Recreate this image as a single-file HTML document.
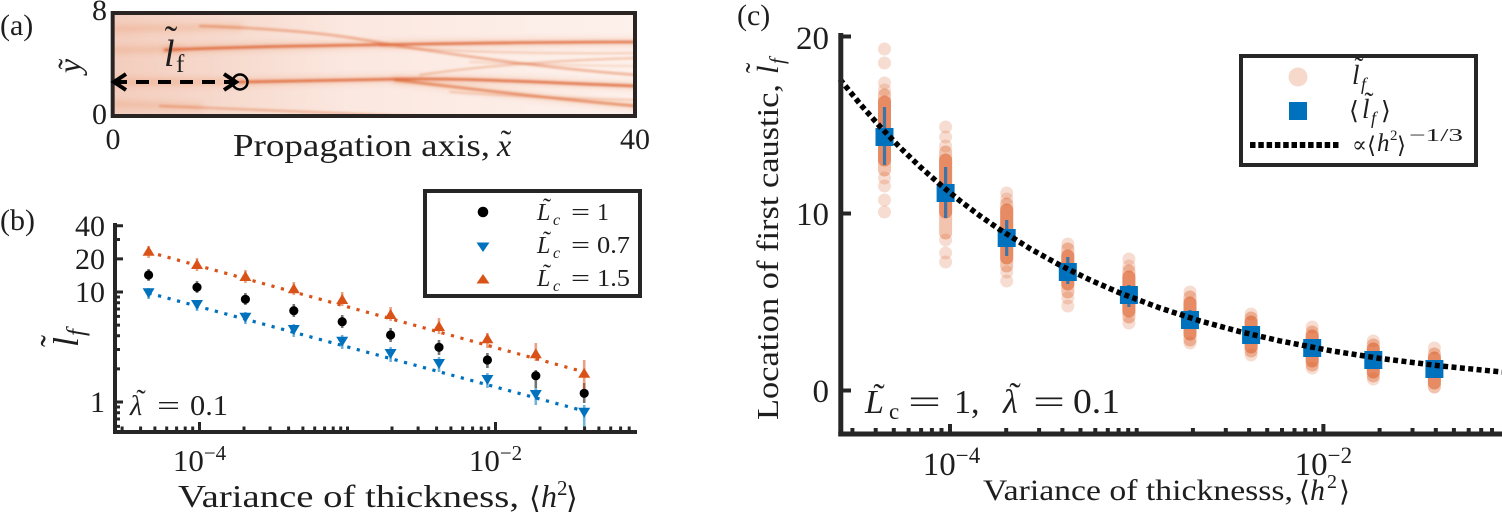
<!DOCTYPE html>
<html><head><meta charset="utf-8"><style>
html,body{margin:0;padding:0;background:#fff;}
svg{display:block;}
text{font-family:"Liberation Serif","DejaVu Serif",serif;fill:#1e1e1e;}
.it{font-style:italic;}
.sym{font-family:"DejaVu Serif","Liberation Serif",serif;}
</style></head><body>
<svg width="1502" height="521" viewBox="0 0 1502 521" xmlns="http://www.w3.org/2000/svg">
<defs>
<clipPath id="ca"><rect x="114.7" y="15" width="520.3" height="101"/></clipPath>
<linearGradient id="ga" x1="0" x2="1" y1="0" y2="0">
<stop offset="0" stop-color="#f3cdbd"/>
<stop offset="0.2" stop-color="#f6d9cc"/>
<stop offset="0.45" stop-color="#fbe8e0"/>
<stop offset="1" stop-color="#fdf1ec"/>
</linearGradient>
<filter id="bl" x="-10%" y="-50%" width="120%" height="200%"><feGaussianBlur stdDeviation="1.1"/></filter>
<filter id="bl2" x="-10%" y="-50%" width="120%" height="200%"><feGaussianBlur stdDeviation="3"/></filter>
</defs>
<rect width="1502" height="521" fill="#fff"/>

<!-- ================= (a) ================= -->
<text x="0" y="35" font-size="30">(a)</text>
<g clip-path="url(#ca)">
<rect x="113" y="13" width="524" height="105" fill="url(#ga)"/>
<g fill="none" stroke="#D95319" stroke-linecap="round" filter="url(#bl2)">
<path d="M115,29 C160,28 200,27 240,27" stroke-width="7" stroke-opacity="0.14"/>
<path d="M115,50 C140,50 160,49 180,49" stroke-width="7" stroke-opacity="0.14"/>
<path d="M115,82 L240,82" stroke-width="8" stroke-opacity="0.16"/>
<path d="M115,104 C150,105 170,106 200,107" stroke-width="7" stroke-opacity="0.14"/>
<path d="M165,50 C230,47 300,46 360,45 C430,44 520,42 637,42" stroke-width="7" stroke-opacity="0.18"/>
<path d="M240,82 C300,81 350,80 400,79 C470,78 550,83 637,86" stroke-width="7" stroke-opacity="0.18"/>
<path d="M395,80 C450,86 540,98 637,106" stroke-width="7" stroke-opacity="0.15"/>
</g>
<g fill="none" stroke="#D95319" stroke-linecap="round" filter="url(#bl)">
<path d="M165,50 C230,47 300,46 360,45 C430,44 520,42 637,42" stroke-width="2.6" stroke-opacity="0.75"/>
<path d="M200,26 C260,28 320,32 365,40 C410,48 520,66 637,75" stroke-width="2.2" stroke-opacity="0.45"/>
<path d="M240,82 C300,81 350,80 400,79 C470,78 550,83 637,86" stroke-width="2.6" stroke-opacity="0.75"/>
<path d="M395,80 C450,86 540,98 637,106" stroke-width="2.4" stroke-opacity="0.6"/>
<path d="M420,75 C480,66 560,60 637,58" stroke-width="1.8" stroke-opacity="0.35"/>
<path d="M160,106 C260,110 340,113 430,117" stroke-width="2" stroke-opacity="0.4"/>
<path d="M450,92 C520,97 580,99 637,100" stroke-width="1.5" stroke-opacity="0.3"/>
<path d="M380,46 C450,52 540,54 637,53" stroke-width="1.5" stroke-opacity="0.3"/>
<path d="M470,62 C530,64 590,66 637,66" stroke-width="1.3" stroke-opacity="0.25"/>
</g>
</g>
<rect x="112.7" y="13" width="522.3" height="103" fill="none" stroke="#2a2522" stroke-width="4"/>
<!-- arrow -->
<line x1="114" y1="82" x2="234" y2="82" stroke="#000" stroke-width="4" stroke-dasharray="13 9"/>
<polyline points="126,74 114,82 126,90" fill="none" stroke="#000" stroke-width="4" stroke-linejoin="miter"/>
<polyline points="224,74 236,82 224,90" fill="none" stroke="#000" stroke-width="4"/>
<circle cx="240" cy="82" r="7.5" fill="none" stroke="#000" stroke-width="2.5"/>
<text x="164" y="66" font-size="38" class="it" fill="#000">l</text>
<text x="171" y="52" font-size="38" text-anchor="middle" fill="#000">˜</text>
<text x="176" y="72" font-size="25" fill="#000">f</text>
<!-- ticks labels -->
<text x="107" y="20" font-size="30" text-anchor="end">8</text>
<text x="107" y="124" font-size="30" text-anchor="end">0</text>
<text x="113" y="149" font-size="30" text-anchor="middle">0</text>
<text x="635" y="149" font-size="30" text-anchor="middle">40</text>
<text x="233" y="156" font-size="32" textLength="257" lengthAdjust="spacingAndGlyphs">Propagation axis,</text>
<text x="497" y="156" font-size="32" class="it">x</text>
<text x="506" y="152" font-size="32" text-anchor="middle">˜</text>
<g transform="translate(80,66) rotate(-90)">
<text x="0" y="0" font-size="32" class="it" text-anchor="middle">y</text>
<text x="2" y="0" font-size="32" text-anchor="middle">˜</text>
</g>

<!-- ================= (b) ================= -->
<text x="0" y="230" font-size="30">(b)</text>
<!-- dotted fits -->
<line x1="148.6" y1="252" x2="584.2" y2="372" stroke="#D95319" stroke-width="3.2" stroke-dasharray="3.2 6.6"/>
<line x1="148.6" y1="293" x2="584.2" y2="411" stroke="#0072BD" stroke-width="3.2" stroke-dasharray="3.2 6.6"/>
<!-- error bars -->
<g stroke-width="2.6" stroke-opacity="0.55">
<g stroke="#000">
<line x1="148.6" y1="269" x2="148.6" y2="281"/><line x1="197" y1="281" x2="197" y2="293"/><line x1="245.4" y1="293" x2="245.4" y2="305"/><line x1="293.8" y1="304" x2="293.8" y2="317"/><line x1="342.2" y1="315" x2="342.2" y2="328"/><line x1="390.6" y1="328" x2="390.6" y2="342"/><line x1="439" y1="340" x2="439" y2="355"/><line x1="487.4" y1="353" x2="487.4" y2="368"/><line x1="535.8" y1="370" x2="535.8" y2="388"/><line x1="584.2" y1="383" x2="584.2" y2="403"/>
</g>
<g stroke="#D95319">
<line x1="148.6" y1="246" x2="148.6" y2="258"/><line x1="197" y1="258" x2="197" y2="271"/><line x1="245.4" y1="270" x2="245.4" y2="283"/><line x1="293.8" y1="282" x2="293.8" y2="295"/><line x1="342.2" y1="292" x2="342.2" y2="306"/><line x1="390.6" y1="307" x2="390.6" y2="321"/><line x1="439" y1="318" x2="439" y2="334"/><line x1="487.4" y1="333" x2="487.4" y2="348"/><line x1="535.8" y1="343" x2="535.8" y2="361"/><line x1="584.2" y1="360" x2="584.2" y2="390"/>
</g>
<g stroke="#0072BD">
<line x1="148.6" y1="288" x2="148.6" y2="299"/><line x1="197" y1="300" x2="197" y2="311"/><line x1="245.4" y1="312" x2="245.4" y2="324"/><line x1="293.8" y1="324" x2="293.8" y2="337"/><line x1="342.2" y1="335" x2="342.2" y2="349"/><line x1="390.6" y1="347" x2="390.6" y2="362"/><line x1="439" y1="357" x2="439" y2="372"/><line x1="487.4" y1="373" x2="487.4" y2="388"/><line x1="535.8" y1="388" x2="535.8" y2="405"/><line x1="584.2" y1="405" x2="584.2" y2="432"/>
</g>
</g>
<!-- markers -->
<g fill="#000">
<circle cx="148.6" cy="275" r="4.6"/><circle cx="197" cy="287.3" r="4.6"/><circle cx="245.4" cy="299.3" r="4.6"/><circle cx="293.8" cy="310.7" r="4.6"/><circle cx="342.2" cy="321.7" r="4.6"/><circle cx="390.6" cy="335" r="4.6"/><circle cx="439" cy="347.3" r="4.6"/><circle cx="487.4" cy="360" r="4.6"/><circle cx="535.8" cy="375.7" r="4.6"/><circle cx="584.2" cy="393.3" r="4.6"/>
</g>
<g fill="#0072BD">
<polygon points="142.6,288.3 154.6,288.3 148.6,298.3"/><polygon points="191,300 203,300 197,310"/><polygon points="239.4,312.7 251.4,312.7 245.4,322.7"/><polygon points="287.8,325 299.8,325 293.8,335"/><polygon points="336.2,336.7 348.2,336.7 342.2,346.7"/><polygon points="384.6,349 396.6,349 390.6,359"/><polygon points="433,359 445,359 439,369"/><polygon points="481.4,375 493.4,375 487.4,385"/><polygon points="529.8,390 541.8,390 535.8,400"/><polygon points="578.2,407.7 590.2,407.7 584.2,417.7"/>
</g>
<g fill="#D95319">
<polygon points="142.6,255.7 154.6,255.7 148.6,245.7"/><polygon points="191,269 203,269 197,259"/><polygon points="239.4,281 251.4,281 245.4,271"/><polygon points="287.8,293.3 299.8,293.3 293.8,283.3"/><polygon points="336.2,304 348.2,304 342.2,294"/><polygon points="384.6,319 396.6,319 390.6,309"/><polygon points="433,331 445,331 439,321"/><polygon points="481.4,343.3 493.4,343.3 487.4,333.3"/><polygon points="529.8,358.3 541.8,358.3 535.8,348.3"/><polygon points="578.2,377.7 590.2,377.7 584.2,367.7"/>
</g>
<!-- axes (b) -->
<g stroke="#262626" fill="none">
<line x1="115" y1="223" x2="115" y2="434" stroke-width="4"/>
<line x1="113" y1="432" x2="637" y2="432" stroke-width="4"/>
<path stroke-width="3" d="M122.1,432V426.5M140.6,432V426.5M154.9,432V426.5M166.7,432V426.5M176.6,432V426.5M185.2,432V426.5M192.7,432V426.5M244,432V426.5M270.1,432V426.5M288.6,432V426.5M302.9,432V426.5M314.7,432V426.5M324.6,432V426.5M333.2,432V426.5M340.7,432V426.5M347.5,432V426.5M392,432V426.5M418.1,432V426.5M436.6,432V426.5M450.9,432V426.5M462.7,432V426.5M472.6,432V426.5M481.2,432V426.5M488.7,432V426.5M540,432V426.5M566.1,432V426.5M584.6,432V426.5M598.9,432V426.5M610.7,432V426.5M620.6,432V426.5M629.2,432V426.5"/>
<path stroke-width="3" d="M199.5,432V422M495.5,432V422"/>
<path stroke-width="3" d="M115,426.4H120M115,419H120M115,412.7H120M115,407H120M115,368.9H120M115,349.5H120M115,335.8H120M115,325.1H120M115,316.4H120M115,309H120M115,302.7H120M115,297H120M115,239.5H120"/>
<path stroke-width="3" d="M115,402H123M115,292H123M115,258.9H123M115,225.8H123"/>
</g>
<text x="105" y="412" font-size="30" text-anchor="end">1</text>
<text x="105" y="302" font-size="30" text-anchor="end">10</text>
<text x="105" y="269" font-size="30" text-anchor="end">20</text>
<text x="105" y="236" font-size="30" text-anchor="end">40</text>
<text x="199.5" y="471" font-size="31" text-anchor="middle">10<tspan font-size="21" dy="-11">−4</tspan></text>
<text x="495.5" y="471" font-size="31" text-anchor="middle">10<tspan font-size="21" dy="-11">−2</tspan></text>
<text x="178" y="507" font-size="32" textLength="341" lengthAdjust="spacingAndGlyphs">Variance of thickness,</text>
<text x="529" y="508" font-size="30" class="sym">⟨</text>
<text x="541" y="507" font-size="32" class="it">h</text>
<text x="557" y="495" font-size="21">2</text>
<text x="566" y="508" font-size="30" class="sym">⟩</text>
<g transform="translate(78,347) rotate(-90)">
<text x="0" y="0" font-size="36" class="it">l</text>
<text x="6" y="-13" font-size="36" text-anchor="middle">˜</text>
<text x="11" y="6" font-size="25" class="it">f</text>
</g>
<text x="130" y="415" font-size="28" class="it">λ</text>
<text x="141" y="409" font-size="28" text-anchor="middle">˜</text>
<text x="157" y="415" font-size="28" textLength="23" lengthAdjust="spacingAndGlyphs">=</text>
<text x="190" y="415" font-size="29" textLength="38" lengthAdjust="spacingAndGlyphs">0.1</text>
<!-- legend (b) -->
<rect x="425" y="191" width="215" height="105" fill="#fff" stroke="#262626" stroke-width="4"/>
<circle cx="483" cy="212" r="5.3" fill="#000"/>
<polygon points="476.5,242.5 489.5,242.5 483,252" fill="#0072BD"/>
<polygon points="476.5,283.5 489.5,283.5 483,274" fill="#D95319"/>
<g font-size="24">
<text x="537" y="220" class="it">L</text><text x="547" y="215" text-anchor="middle">˜</text><text x="553" y="225" font-size="16" class="it">c</text><text x="571" y="220" textLength="19" lengthAdjust="spacingAndGlyphs">=</text><text x="597" y="220">1</text>
<text x="537" y="253" class="it">L</text><text x="547" y="248" text-anchor="middle">˜</text><text x="553" y="258" font-size="16" class="it">c</text><text x="571" y="253" textLength="19" lengthAdjust="spacingAndGlyphs">=</text><text x="597" y="253" textLength="33" lengthAdjust="spacingAndGlyphs">0.7</text>
<text x="537" y="286" class="it">L</text><text x="547" y="281" text-anchor="middle">˜</text><text x="553" y="291" font-size="16" class="it">c</text><text x="571" y="286" textLength="19" lengthAdjust="spacingAndGlyphs">=</text><text x="597" y="286" textLength="33" lengthAdjust="spacingAndGlyphs">1.5</text>
</g>

<!-- ================= (c) ================= -->
<text x="737" y="25" font-size="30">(c)</text>
<!-- scatter -->
<g fill="#D95319">
<g fill-opacity="0.2">
<circle cx="884.5" cy="49" r="6.5"/><circle cx="884.5" cy="63" r="6.5"/><circle cx="884.5" cy="83" r="6.5"/><circle cx="884.5" cy="90" r="6.5"/><circle cx="884.5" cy="178" r="6.5"/><circle cx="884.5" cy="186" r="6.5"/><circle cx="884.5" cy="200" r="6.5"/><circle cx="884.5" cy="212" r="6.5"/>
<circle cx="945.6" cy="127" r="6.5"/><circle cx="945.6" cy="137" r="6.5"/><circle cx="945.6" cy="146" r="6.5"/><circle cx="945.6" cy="240" r="6.5"/><circle cx="945.6" cy="253" r="6.5"/><circle cx="945.6" cy="262" r="6.5"/>
<circle cx="1006.7" cy="193" r="6.5"/><circle cx="1006.7" cy="199" r="6.5"/><circle cx="1006.7" cy="272" r="6.5"/><circle cx="1006.7" cy="281" r="6.5"/>
<circle cx="1067.8" cy="244" r="6.5"/><circle cx="1067.8" cy="298" r="6.5"/><circle cx="1067.8" cy="306" r="6.5"/>
<circle cx="1128.9" cy="259" r="6.5"/><circle cx="1128.9" cy="266" r="6.5"/><circle cx="1128.9" cy="323" r="6.5"/>
<circle cx="1190" cy="292" r="6.5"/><circle cx="1190" cy="343" r="6.5"/>
<circle cx="1251.1" cy="314" r="6.5"/><circle cx="1251.1" cy="355" r="6.5"/>
<circle cx="1312.2" cy="327" r="6.5"/><circle cx="1312.2" cy="368" r="6.5"/>
<circle cx="1373.3" cy="341" r="6.5"/><circle cx="1373.3" cy="379" r="6.5"/>
<circle cx="1434.4" cy="348" r="6.5"/>
</g>
<g fill-opacity="0.35">
<rect x="878" y="88.5" width="13" height="88" rx="6.5"/>
<rect x="939.1" y="145.5" width="13" height="94" rx="6.5"/>
<rect x="1000.2" y="197.5" width="13" height="75" rx="6.5"/>
<rect x="1061.3" y="242.5" width="13" height="56" rx="6.5"/>
<rect x="1122.4" y="264.5" width="13" height="59" rx="6.5"/>
<rect x="1183.5" y="290.5" width="13" height="56" rx="6.5"/>
<rect x="1244.6" y="311.5" width="13" height="46" rx="6.5"/>
<rect x="1305.7" y="325.5" width="13" height="46" rx="6.5"/>
<rect x="1366.8" y="338.5" width="13" height="44" rx="6.5"/>
<rect x="1427.9" y="347.5" width="13" height="46" rx="6.5"/>
</g>
<g fill-opacity="0.5">
<rect x="878" y="95.5" width="13" height="71" rx="6.5"/>
<rect x="939.1" y="153.5" width="13" height="65" rx="6.5"/>
<rect x="1000.2" y="203.5" width="13" height="61" rx="6.5"/>
<rect x="1061.3" y="249.5" width="13" height="41" rx="6.5"/>
<rect x="1122.4" y="270.5" width="13" height="47" rx="6.5"/>
<rect x="1183.5" y="296.5" width="13" height="44" rx="6.5"/>
<rect x="1244.6" y="315.5" width="13" height="38" rx="6.5"/>
<rect x="1305.7" y="329.5" width="13" height="38" rx="6.5"/>
<rect x="1366.8" y="342.5" width="13" height="36" rx="6.5"/>
<rect x="1427.9" y="351.5" width="13" height="38" rx="6.5"/>
</g>
</g>
<!-- error bars (c) -->
<g stroke="#3f74a6" stroke-width="3.2">
<line x1="884.5" y1="107" x2="884.5" y2="165"/><line x1="945.6" y1="167" x2="945.6" y2="218"/><line x1="1006.7" y1="220" x2="1006.7" y2="256"/><line x1="1067.8" y1="257" x2="1067.8" y2="284"/><line x1="1128.9" y1="285" x2="1128.9" y2="307"/><line x1="1190" y1="310" x2="1190" y2="328"/><line x1="1251.1" y1="327" x2="1251.1" y2="343"/><line x1="1312.2" y1="339" x2="1312.2" y2="356"/><line x1="1373.3" y1="352" x2="1373.3" y2="368"/><line x1="1434.4" y1="362" x2="1434.4" y2="376"/>
</g>
<g fill="#0072BD">
<rect x="875.5" y="128" width="18" height="18"/><rect x="936.6" y="184" width="18" height="18"/><rect x="997.7" y="229" width="18" height="18"/><rect x="1058.8" y="263" width="18" height="18"/><rect x="1119.9" y="286" width="18" height="18"/><rect x="1181" y="311" width="18" height="18"/><rect x="1242.1" y="326" width="18" height="18"/><rect x="1303.2" y="339" width="18" height="18"/><rect x="1364.3" y="351" width="18" height="18"/><rect x="1425.4" y="360" width="18" height="18"/>
</g>
<!-- fit curve -->
<polyline fill="none" stroke="#000" stroke-width="5.5" stroke-dasharray="5 3.4" points="840,79.3 860,103.9 880,126.6 900,147.5 920,166.7 940,184.4 960,200.8 980,215.9 1000,229.7 1030,248.6 1060,265.2 1090,279.9 1120,293 1160,308 1200,320.9 1240,331.7 1280,340.9 1330,350.6 1380,358.4 1440,365.9 1502,372"/>
<!-- axes (c) -->
<g stroke="#262626" fill="none">
<line x1="840.8" y1="33" x2="840.8" y2="436.5" stroke-width="5"/>
<line x1="838.3" y1="434" x2="1502" y2="434" stroke-width="5"/>
<path stroke-width="4" d="M840,36.5H851M840,213.5H851M840,390.5H851"/>
<path stroke-width="4" d="M852.4,434V428M875.7,434V428M893.8,434V428M908.6,434V428M921.1,434V428M931.9,434V428M941.5,434V428M1006.2,434V428M1039.1,434V428M1062.4,434V428M1080.5,434V428M1095.3,434V428M1107.8,434V428M1118.6,434V428M1128.2,434V428M1136.7,434V428M1192.9,434V428M1225.8,434V428M1249.1,434V428M1267.2,434V428M1282,434V428M1294.5,434V428M1305.3,434V428M1314.9,434V428M1379.6,434V428M1412.5,434V428M1435.8,434V428M1453.9,434V428M1468.7,434V428M1481.2,434V428M1492,434V428"/>
<path stroke-width="4" d="M950,434V424M1323.4,434V424"/>
</g>
<text x="829" y="49" font-size="33" text-anchor="end">20</text>
<text x="829" y="225" font-size="33" text-anchor="end">10</text>
<text x="829" y="402" font-size="33" text-anchor="end">0</text>
<text x="951.5" y="475" font-size="33" text-anchor="middle">10<tspan font-size="23" dy="-12">−4</tspan></text>
<text x="1323.4" y="475" font-size="33" text-anchor="middle">10<tspan font-size="23" dy="-12">−2</tspan></text>
<text x="983" y="500" font-size="30" textLength="310" lengthAdjust="spacingAndGlyphs">Variance of thicknesss,</text>
<text x="1299" y="501" font-size="28" class="sym">⟨</text>
<text x="1310" y="500" font-size="30" class="it">h</text>
<text x="1327" y="488" font-size="20">2</text>
<text x="1339" y="501" font-size="28" class="sym">⟩</text>
<g transform="translate(778,420) rotate(-90)">
<text x="0" y="0" font-size="31" textLength="336" lengthAdjust="spacingAndGlyphs">Location of first caustic,</text>
<text x="346" y="0" font-size="31" class="it">l</text>
<text x="352" y="-11" font-size="31" text-anchor="middle">˜</text>
<text x="356" y="6" font-size="21" class="it">f</text>
</g>
<!-- annotation -->
<text x="865" y="413" font-size="34" class="it" fill="#000">L</text>
<text x="879" y="407" font-size="34" text-anchor="middle" fill="#000">˜</text>
<text x="889" y="419" font-size="23" fill="#000">c</text>
<text x="908" y="413" font-size="34" textLength="33" lengthAdjust="spacingAndGlyphs" fill="#000">=</text>
<text x="954" y="413" font-size="34" fill="#000">1,</text>
<text x="1003" y="413" font-size="34" class="it" fill="#000">λ</text>
<text x="1015" y="406" font-size="34" text-anchor="middle" fill="#000">˜</text>
<text x="1033" y="413" font-size="34" textLength="32" lengthAdjust="spacingAndGlyphs" fill="#000">=</text>
<text x="1073" y="413" font-size="35" textLength="47" lengthAdjust="spacingAndGlyphs" fill="#000">0.1</text>
<!-- legend (c) -->
<rect x="1241" y="56" width="235" height="109" fill="#fff" stroke="#262626" stroke-width="4"/>
<circle cx="1298" cy="77" r="9.5" fill="#D95319" fill-opacity="0.22"/>
<rect x="1289" y="102" width="18" height="18" fill="#0072BD"/>
<line x1="1250" y1="145" x2="1341" y2="145" stroke="#000" stroke-width="6" stroke-dasharray="5.5 2.8"/>
<text x="1352" y="84" font-size="27" class="it">l</text>
<text x="1359" y="76" font-size="27" text-anchor="middle">˜</text>
<text x="1361" y="90" font-size="18" class="it">f</text>
<text x="1349" y="119" font-size="25" class="sym">⟨</text>
<text x="1362" y="118" font-size="27" class="it">l</text>
<text x="1369" y="111" font-size="27" text-anchor="middle">˜</text>
<text x="1371" y="124" font-size="18" class="it">f</text>
<text x="1381" y="119" font-size="25" class="sym">⟩</text>
<text x="1352" y="152" font-size="22" class="sym">∝</text>
<text x="1367" y="153" font-size="23" class="sym">⟨</text>
<text x="1377" y="151" font-size="25" class="it">h</text>
<text x="1390" y="140" font-size="15">2</text>
<text x="1397" y="153" font-size="23" class="sym">⟩</text>
<text x="1409" y="141" font-size="18" textLength="54" lengthAdjust="spacingAndGlyphs">−1/3</text>
</svg>
</body></html>
